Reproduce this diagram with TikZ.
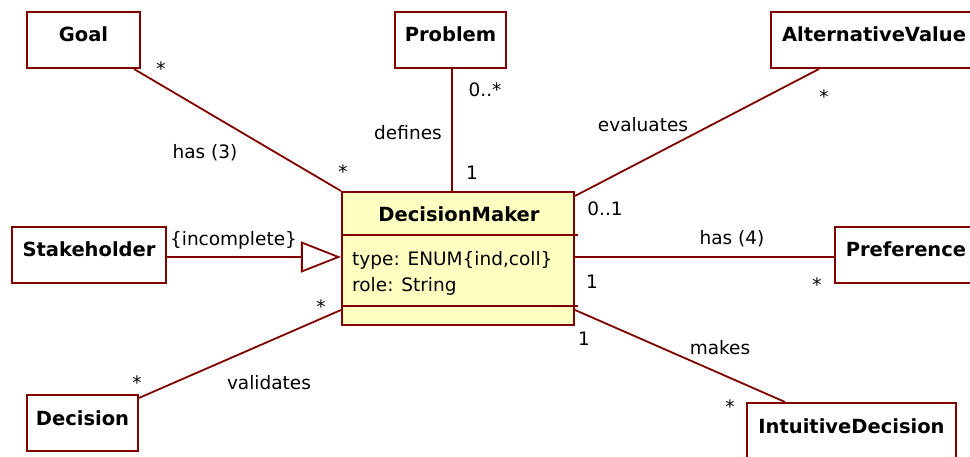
\documentclass[tikz,border=0pt]{standalone}
\usepackage{fontspec}
\setmainfont{DejaVu Sans}
\usetikzlibrary{arrows.meta,calc}
\definecolor{umlred}{RGB}{128,0,0}
\definecolor{umlfill}{RGB}{255,255,194}

\begin{document}
\begin{tikzpicture}[x=1pt,y=-1pt,
  font=\fontsize{18.5}{22}\selectfont,
  cls/.style={draw=umlred, line width=2.1pt, fill=white, inner sep=0pt,
    text height=30pt, text depth=26pt, minimum height=56pt,
    font=\fontsize{19.5}{22}\selectfont\bfseries},
  assoc/.style={draw=umlred, line width=1.8pt},
  lbl/.style={inner sep=0pt, anchor=base}]
\clip (0,0) rectangle (970,457);
\fill[white] (0,0) rectangle (970,457);

% classes
\node[cls, minimum width=113pt] (goal)     at (83.5,40)  {Goal};
\node[cls, minimum width=111pt] (problem)  at (450.5,40) {Problem};
\node[cls, minimum width=206pt] (altval)   at (874,40)   {AlternativeValue};
\node[cls, minimum width=154pt] (stake)    at (89,255)   {Stakeholder};
\node[cls, minimum width=142pt] (pref)     at (906,255)  {Preference};
\node[cls, minimum width=111pt] (decision) at (82.5,423) {Decision};
\node[cls, minimum width=209pt] (intuit)   at (851.5,431){IntuitiveDecision};

% DecisionMaker class with attribute compartment
\node[draw=umlred, fill=umlfill, line width=2.1pt, inner sep=0pt,
      minimum width=232pt, minimum height=133pt] (dm) at (458,258.5) {};
\node[lbl, font=\fontsize{19.5}{22}\selectfont\bfseries] (dmname) at (459,222) {DecisionMaker};
\node[lbl, anchor=base west] (dmtype) at (352,266) {type: ENUM\{ind,coll\}};
\node[lbl, anchor=base west] (dmrole) at (352,291) {role: String};
\coordinate (sep1) at (dm.west |- 0,235);
\coordinate (sep2) at (dm.west |- 0,306);
\draw[umlred, line width=1.8pt] (sep1) -- ($(sep1 -| dm.east)+(3,0)$);
\draw[umlred, line width=1.8pt] (sep2) -- ($(sep2 -| dm.east)+(3,0)$);

% associations
\coordinate (goalfoot) at ($(goal.south east)+(-7,0)$);
\draw[assoc] (goalfoot) -- (dm.north west);

\coordinate (probfoot) at ($(problem.south)+(1.5,0)$);
\draw[assoc] (probfoot) -- (probfoot |- dm.north);

\coordinate (altfoot) at ($(altval.south west)+(49,0)$);
\coordinate (dmne) at ($(dm.north east)+(0,5)$);
\draw[assoc] (altfoot) -- (dmne);

\coordinate (stakeend) at ($(stake.east)+(0,2)$);
\draw[assoc, -{Triangle[open, length=40pt, width=31pt, line width=1.8pt]}]
  (stakeend) -- (stakeend -| dm.west);

\coordinate (prefend) at ($(pref.west)+(0,2)$);
\draw[assoc] (prefend -| dm.east) -- (prefend);

\coordinate (intuitfoot) at ($(intuit.north west)+(39,0)$);
\coordinate (dmse) at ($(dm.east)+(0,51.5)$);
\draw[assoc] (dmse) -- (intuitfoot);

\coordinate (decfoot) at ($(decision.north east)+(0,4)$);
\coordinate (dmsw) at ($(dm.west)+(0,51.5)$);
\draw[assoc] (decfoot) -- (dmsw);

% association names and multiplicities
\node[lbl] (m1) at (161,76)  {*};
\node[lbl] (n1) at (205,159) {has (3)};
\node[lbl] (m2) at (343,179) {*};

\node[lbl] (m3) at (485,97)  {0..*};
\node[lbl] (n2) at (408,140) {defines};
\node[lbl] (m4) at (472,180) {1};

\node[lbl] (n3) at (643,132) {evaluates};
\node[lbl] (m5) at (824,104) {*};
\node[lbl] (m6) at (605,216) {0..1};

\node[lbl] (n4) at (732,245) {has (4)};
\node[lbl] (m7) at (817,291) {*};
\node[lbl] (m8) at (592,289) {1};

\node[lbl] (n5) at (720,355) {makes};
\node[lbl] (m9) at (730,413) {*};
\node[lbl] (m10) at (584,345) {1};

\node[lbl] (c1) at (233.5,246) {\{incomplete\}};

\node[lbl] (m11) at (321,313) {*};
\node[lbl] (n6) at (269,389) {validates};
\node[lbl] (m12) at (137,389) {*};
\end{tikzpicture}
\end{document}
